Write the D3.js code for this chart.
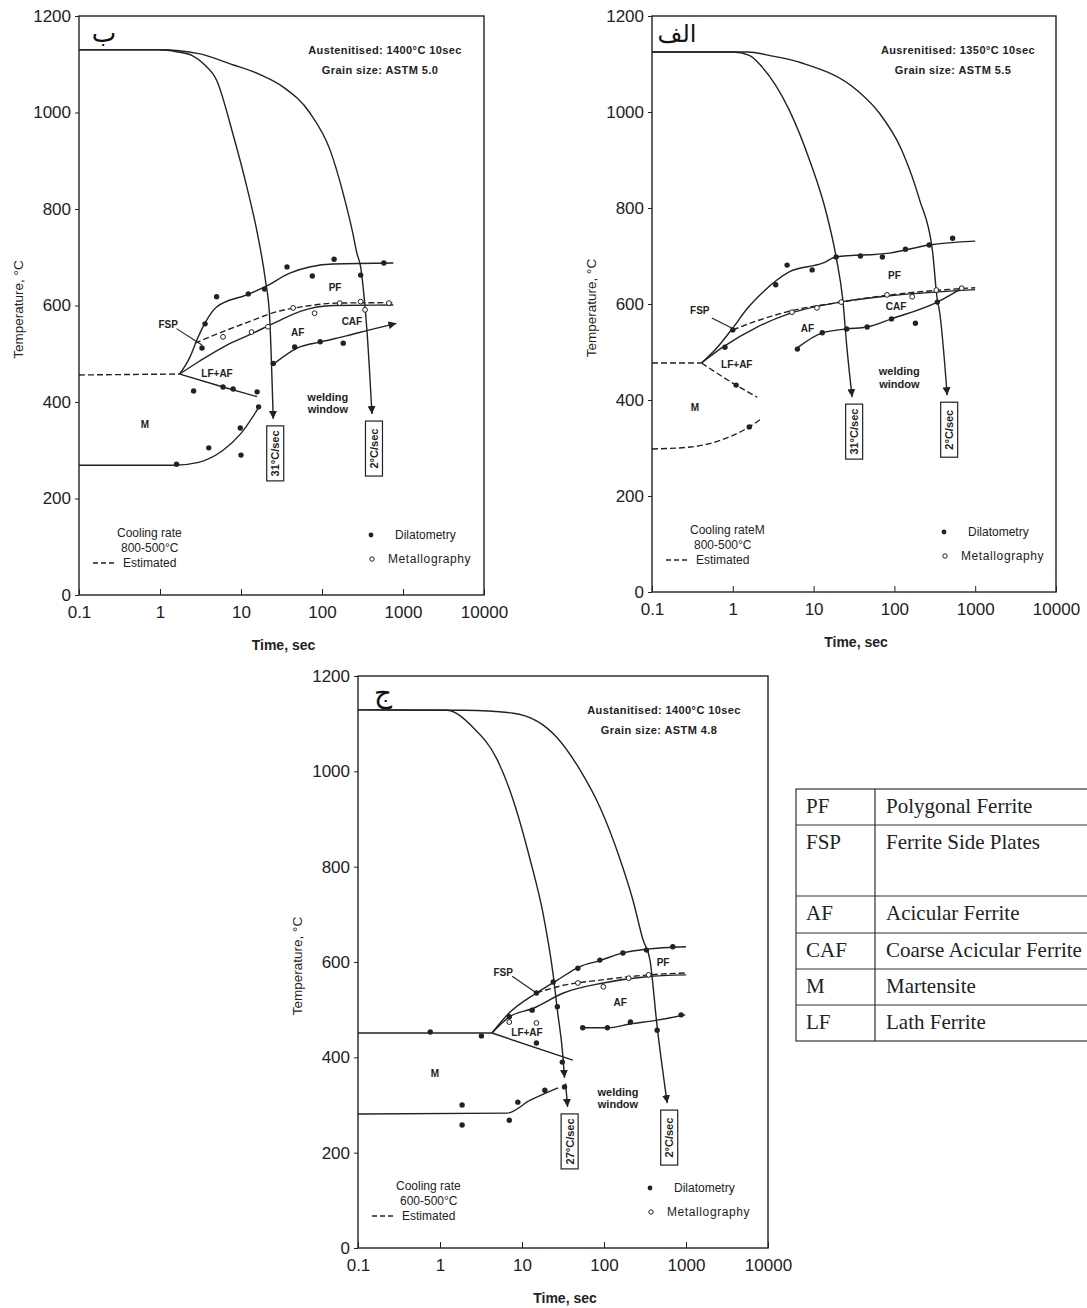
<!DOCTYPE html>
<html>
<head>
<meta charset="utf-8">
<title>CCT diagrams</title>
<style>
  body { margin: 0; background: #fff; }
  svg { display: block; }
</style>
<script src="https://d3js.org/d3.v7.min.js"></script>
</head>
<body>
<div id="chart"></div>
<script>
// shared axis values
var timeTicks = [0.1, 1, 10, 100, 1000, 10000];
var timeTickLabels = ["0.1", "1", "10", "100", "1000", "10000"];
var tempTicks = [0, 200, 400, 600, 800, 1000, 1200];

// ---- panel ب  (time s, temperature C)
var b_fastCool = [[0.1,1130],[1,1130],[1.6,1126],[2.5,1118],[3.5,1100],[5,1067],[7.9,957],[11.8,846],[15.9,750],[20,653],[22.5,580],[25,365]];
var b_slowCool = [[0.1,1130],[1,1130],[3,1122],[7.9,1099],[17,1079],[33,1053],[71,999],[126,922],[182,833],[240,750],[270,708],[300,680],[330,620],[360,545],[414,375]];
var b_pfStart = [[1.75,458],[2.34,493],[2.86,529],[3.6,564],[5,597],[11.8,622],[20,639],[40,667],[138,686],[760,688]];
var b_fspLine = [[2.7,522],[6,546],[12,565],[27.5,587],[60,598],[150,605],[760,606]];
var b_afStart = [[1.75,458],[3.1,485],[6.7,518],[13,540],[27.5,566],[54,588],[140,600],[760,601]];
var b_cafLine = [[25,478],[50,512],[100,525],[200,537],[400,550],[830,563]];
var b_lfLine = [[1.75,458],[6,431],[15.8,411]];
var b_estLine = [[0.1,456],[1.75,458]];
var b_msLine = [[0.1,269],[1.5,269],[3,275],[6,300],[10,335],[17,392]];
var b_dilatometry = [[2.6,423],[3.6,562],[5,618],[12.3,624],[19.5,634],[37,680],[76,661],[141,696],[300,663],[580,688],[6,431],[8,427],[15.8,421],[1.6,271],[4,305],[9.8,346],[10,290],[16.5,390],[46,514],[95,525],[183,522],[25,480],[3.3,512]];
var b_metallography = [[6,535],[13.5,545],[21.5,556],[44,595],[81,584],[165,605],[340,591],[670,605],[300,608]];
var b_rates = ["31°C/sec", "2°C/sec"];

// ---- panel الف
var a_fastCool = [[0.1,1125],[1,1125],[1.6,1118],[2.3,1094],[5,1004],[8.9,900],[14.4,789],[19,698],[23,608],[26,504],[30,406]];
var a_slowCool = [[0.1,1125],[1.5,1125],[3,1117],[7.2,1102],[34,1046],[65,998],[123,921],[205,817],[295,713],[340,608],[360,587],[450,410]];
var a_pfStart = [[0.41,477],[0.6,504],[1,550],[1.5,590],[2.3,623],[5,667],[12.9,685],[19,698],[87,706],[270,723],[1000,731]];
var a_fspLine = [[1,546],[2,565],[5,585],[20,603],[100,620],[1000,634]];
var a_afStart = [[0.41,477],[0.75,510],[2,552],[5,580],[23,605],[100,618],[1000,630]];
var a_cafLine = [[6.2,508],[12.8,540],[25.7,548],[46,552],[92,569],[340,604],[690,633]];
var a_lfLine = [[0.41,477],[1.1,431],[2,406]];
var a_estLine = [[0.1,477],[0.41,477]];
var a_msLine = [[0.1,298],[0.3,302],[0.9,323],[1.6,344],[2.3,362]];
var a_dilatometry = [[0.8,510],[1,546],[3.4,640],[4.7,681],[9.6,671],[19,698],[38,700],[71,698],[137,714],[270,723],[525,737],[6.3,506],[12.8,540],[25.7,548],[46,552],[92,569],[182,560],[340,604],[1.1,431],[1.6,344]];
var a_metallography = [[5.4,583],[11,592],[22,604],[81,619],[166,615],[330,629],[680,633]];
var a_rates = ["31°C/sec", "2°C/sec"];

// ---- panel ج
var c_fastCool = [[0.1,1129],[1.2,1128],[2.5,1093],[5,1024],[7.8,940],[12.6,814],[18,703],[24,573],[27,499],[31.6,401],[33,357]];
var c_fastTail = [[34,345],[36,296]];
var c_slowCool = [[0.1,1129],[2,1128],[7.8,1122],[27,1070],[51,1003],[89,925],[158,814],[225,730],[300,646],[363,605],[445,464],[590,304]];
var c_pfStart = [[4.3,451],[6.6,489],[15,535],[27,562],[50,590],[89,603],[170,619],[330,627],[1000,632]];
var c_fspLine = [[15,535],[30,550],[100,563],[300,572],[1000,577]];
var c_afStart = [[4.3,451],[7,485],[13.8,503],[32,535],[98,556],[330,569],[1000,573]];
var c_cafLine = [[55,462],[110,462],[210,470],[445,478],[980,489]];
var c_lfLine = [[4.3,451],[41.7,394]];
var c_startLine = [[0.1,451],[4.3,451]];
var c_msLine = [[0.1,281],[6.6,283],[12.6,310],[27.5,336]];
var c_dilatometry = [[0.76,453],[3.2,445],[15,535],[24,558],[48,587],[89,604],[170,619],[330,625],[690,632],[7,485],[13.3,499],[27,506],[15,430],[31,390],[33,338],[55,462],[110,462],[210,474],[445,457],[870,489],[1.86,300],[1.86,258],[7,268],[8.9,306],[19,331]];
var c_metallography = [[7,474],[15,472],[48,556],[98,548],[200,566],[350,573]];
var c_rates = ["27°C/sec", "2°C/sec"];

// ---- table of phase names
var phaseAbbr = ["PF", "FSP", "AF", "CAF", "M", "LF"];
var phaseName = ["Polygonal Ferrite", "Ferrite Side Plates", "Acicular Ferrite", "Coarse Acicular Ferrite", "Martensite", "Lath Ferrite"];

var SANS = "'Liberation Sans', Arial, sans-serif";
var SERIF = "'Liberation Serif', 'Times New Roman', serif";

var svg = d3.select("#chart").append("svg").attr("width", 1087).attr("height", 1308)
    .attr("font-family", SANS);
svg.append("rect").attr("width", 1087).attr("height", 1308).attr("fill", "#fff");

var defs = svg.append("defs");
defs.append("marker").attr("id", "arrow")
    .attr("viewBox", "0 0 10 10").attr("refX", 10).attr("refY", 5)
    .attr("markerUnits", "userSpaceOnUse").attr("markerWidth", 8).attr("markerHeight", 8)
    .attr("orient", "auto")
    .append("path").attr("d", "M0,0 L10,5 L0,10 z").attr("fill", "#222");

var panels = [
    {left: 79, top: 16, w: 405, h: 579, tag: "ب", tagSize: 26,
     head1: "Austenitised: 1400°C 10sec", head2: "Grain size: ASTM 5.0", rateText: "800-500°C", coolText: "Cooling rate",
     curves: [
        {pts: b_fastCool, arrow: true, rate: b_rates[0]},
        {pts: b_slowCool, arrow: true, rate: b_rates[1]},
        {pts: b_pfStart}, {pts: b_fspLine, dash: true}, {pts: b_afStart},
        {pts: b_cafLine, arrow: true}, {pts: b_lfLine}, {pts: b_estLine, dash: true}, {pts: b_msLine}],
     dil: b_dilatometry, met: b_metallography,
     labels: [["FSP",1.26,560],["LF+AF",5.06,460],["M",0.65,354],["PF",145,638],["AF",50,545],["CAF",234,566],["welding",118,410],["window",118,386]],
     leader: [[1.6,552],[3.3,518]]},
    {left: 652, top: 16, w: 404, h: 576, tag: "الف", tagSize: 24,
     head1: "Ausrenitised: 1350°C 10sec", head2: "Grain size: ASTM 5.5", rateText: "800-500°C", coolText: "Cooling rateM",
     curves: [
        {pts: a_fastCool, arrow: true, rate: a_rates[0]},
        {pts: a_slowCool, arrow: true, rate: a_rates[1]},
        {pts: a_pfStart}, {pts: a_fspLine, dash: true}, {pts: a_afStart},
        {pts: a_cafLine}, {pts: a_lfLine, dash: true}, {pts: a_estLine, dash: true}, {pts: a_msLine, dash: true}],
     dil: a_dilatometry, met: a_metallography,
     labels: [["FSP",0.39,587],["LF+AF",1.12,473],["M",0.34,385],["PF",100,660],["CAF",105,594],["AF",8.4,550],["welding",115,460],["window",115,433]],
     leader: [[0.55,571],[0.97,550]]},
    {left: 358, top: 676, w: 410, h: 572, tag: "ج", tagSize: 28,
     head1: "Austanitised: 1400°C 10sec", head2: "Grain size: ASTM 4.8", rateText: "600-500°C", coolText: "Cooling rate",
     curves: [
        {pts: c_fastCool, arrow: true},
        {pts: c_fastTail, arrow: true, rate: c_rates[0]},
        {pts: c_slowCool, arrow: true, rate: c_rates[1]},
        {pts: c_pfStart}, {pts: c_fspLine, dash: true}, {pts: c_afStart},
        {pts: c_cafLine}, {pts: c_lfLine}, {pts: c_startLine}, {pts: c_msLine}],
     dil: c_dilatometry, met: c_metallography,
     labels: [["FSP",5.9,579],["LF+AF",11.5,453],["M",0.87,367],["PF",525,600],["AF",158,514],["welding",148,328],["window",148,301]],
     leader: [[7.6,570],[14.4,537]]}
];

panels.forEach(function(p) { drawPanel(p); });

function drawPanel(p) {
    var x = d3.scaleLog().domain([0.1, 10000]).range([p.left, p.left + p.w]);
    var y = d3.scaleLinear().domain([0, 1200]).range([p.top + p.h, p.top]);
    var bottom = p.top + p.h;
    var g = svg.append("g");

    g.append("rect").attr("x", p.left).attr("y", p.top).attr("width", p.w).attr("height", p.h)
        .attr("fill", "none").attr("stroke", "#222").attr("stroke-width", 1.4);

    var ya = g.append("g").attr("transform", "translate(" + p.left + ",0)")
        .call(d3.axisLeft(y).tickValues(tempTicks).tickFormat(d3.format("d")).tickSize(4).tickPadding(4));
    ya.select(".domain").remove();
    ya.selectAll("line").attr("stroke", "#222");
    ya.selectAll("text").attr("font-size", 17).attr("font-family", SANS).attr("fill", "#222");

    var xa = g.append("g").attr("transform", "translate(0," + bottom + ")")
        .call(d3.axisBottom(x).tickValues(timeTicks).tickFormat(function(d, i) { return timeTickLabels[i]; })
            .tickSize(-6).tickPadding(11));
    xa.select(".domain").remove();
    xa.selectAll("line").attr("stroke", "#222");
    xa.selectAll("text").attr("font-size", 17).attr("font-family", SANS).attr("fill", "#222");

    g.append("text").attr("x", p.left + p.w / 2 + 2).attr("y", bottom + 55).attr("fill", "#222")
        .attr("text-anchor", "middle").attr("font-size", 14).attr("font-weight", "bold").text("Time, sec");
    g.append("text").attr("transform", "translate(" + (p.left - 56) + "," + (p.top + p.h / 2 + 4) + ") rotate(-90)")
        .attr("fill", "#222").attr("text-anchor", "middle").attr("font-size", 13.5).text("Temperature, °C");

    // header texts
    g.append("text").attr("x", p.left + 306).attr("y", p.top + 38).attr("text-anchor", "middle").attr("fill", "#222")
        .attr("font-size", 11).attr("letter-spacing", 0.4).attr("font-weight", "bold").text(p.head1);
    g.append("text").attr("x", p.left + 301).attr("y", p.top + 58).attr("text-anchor", "middle").attr("fill", "#222")
        .attr("font-size", 11).attr("letter-spacing", 0.4).attr("font-weight", "bold").text(p.head2);
    g.append("text").attr("x", p.left + 25).attr("y", p.top + 26).attr("text-anchor", "middle").attr("fill", "#111")
        .attr("font-family", "'DejaVu Sans', sans-serif").attr("font-size", p.tagSize).text(p.tag);

    var line = d3.line().x(function(d) { return x(d[0]); }).y(function(d) { return y(d[1]); })
        .curve(d3.curveMonotoneX);

    p.curves.forEach(function(c) {
        g.append("path").attr("d", line(c.pts)).attr("fill", "none")
            .attr("stroke", "#222").attr("stroke-width", 1.4)
            .attr("stroke-dasharray", c.dash ? "6,3" : null)
            .attr("marker-end", c.arrow ? "url(#arrow)" : null);
        if (c.rate) {
            var tip = c.pts[c.pts.length - 1];
            var cx = x(tip[0]) + 2, ty = y(tip[1]) + 7;
            g.append("rect").attr("x", cx - 8.5).attr("y", ty).attr("width", 17).attr("height", 55)
                .attr("fill", "#fff").attr("stroke", "#222").attr("stroke-width", 1.2);
            g.append("text").attr("transform", "translate(" + (cx + 4) + "," + (ty + 27.5) + ") rotate(-90)")
                .attr("fill", "#222").attr("text-anchor", "middle").attr("font-size", 11).attr("font-weight", "bold").text(c.rate);
        }
    });

    // leader from FSP label
    g.append("line").attr("x1", x(p.leader[0][0])).attr("y1", y(p.leader[0][1]))
        .attr("x2", x(p.leader[1][0])).attr("y2", y(p.leader[1][1]))
        .attr("stroke", "#222").attr("stroke-width", 1.1);

    g.selectAll(".dil").data(p.dil).enter().append("circle")
        .attr("cx", function(d) { return x(d[0]); }).attr("cy", function(d) { return y(d[1]); })
        .attr("r", 2.7).attr("fill", "#222");
    g.selectAll(".met").data(p.met).enter().append("circle")
        .attr("cx", function(d) { return x(d[0]); }).attr("cy", function(d) { return y(d[1]); })
        .attr("r", 2.4).attr("fill", "#fff").attr("stroke", "#222").attr("stroke-width", 1);

    p.labels.forEach(function(l) {
        var big = l[0] === "welding" || l[0] === "window";
        g.append("text").attr("x", x(l[1])).attr("y", y(l[2])).attr("dy", "0.35em").attr("fill", "#222")
            .attr("text-anchor", "middle").attr("font-size", big ? 11 : 10).attr("font-weight", "bold").text(l[0]);
    });

    // legend
    g.append("text").attr("x", p.left + 38).attr("y", bottom - 58).attr("font-size", 12).attr("fill", "#222").text(p.coolText);
    g.append("text").attr("x", p.left + 42).attr("y", bottom - 43).attr("font-size", 12).attr("fill", "#222").text(p.rateText);
    g.append("line").attr("x1", p.left + 14).attr("x2", p.left + 37).attr("y1", bottom - 32).attr("y2", bottom - 32)
        .attr("stroke", "#222").attr("stroke-width", 1.3).attr("stroke-dasharray", "5,3");
    g.append("text").attr("x", p.left + 44).attr("y", bottom - 28).attr("font-size", 12).attr("fill", "#222").text("Estimated");
    g.append("circle").attr("cx", p.left + 292).attr("cy", bottom - 60).attr("r", 2.4).attr("fill", "#222");
    g.append("text").attr("x", p.left + 316).attr("y", bottom - 56).attr("font-size", 12).attr("fill", "#222").text("Dilatometry");
    g.append("circle").attr("cx", p.left + 293).attr("cy", bottom - 36).attr("r", 2.2)
        .attr("fill", "#fff").attr("stroke", "#222");
    g.append("text").attr("x", p.left + 309).attr("y", bottom - 32).attr("font-size", 12).attr("fill", "#222")
        .attr("letter-spacing", 0.6).text("Metallography");
}

// phase table
var rowTops = [789, 825, 896, 933, 969, 1005, 1041];
var tbl = svg.append("g");
tbl.append("rect").attr("x", 796).attr("y", rowTops[0]).attr("width", 320).attr("height", rowTops[6] - rowTops[0])
    .attr("fill", "none").attr("stroke", "#333").attr("stroke-width", 1.2);
tbl.append("line").attr("x1", 875).attr("x2", 875).attr("y1", rowTops[0]).attr("y2", rowTops[6])
    .attr("stroke", "#333").attr("stroke-width", 1.2);
rowTops.slice(1, 6).forEach(function(r) {
    tbl.append("line").attr("x1", 796).attr("x2", 1116).attr("y1", r).attr("y2", r)
        .attr("stroke", "#333").attr("stroke-width", 1.2);
});
phaseAbbr.forEach(function(a, i) {
    var base = rowTops[i] + 24;
    tbl.append("text").attr("x", 806).attr("y", base).attr("font-family", SERIF).attr("fill", "#222")
        .attr("font-size", 21).text(a);
    tbl.append("text").attr("x", 886).attr("y", base).attr("font-family", SERIF).attr("fill", "#222")
        .attr("font-size", 21).text(phaseName[i]);
});
</script>
</body>
</html>
